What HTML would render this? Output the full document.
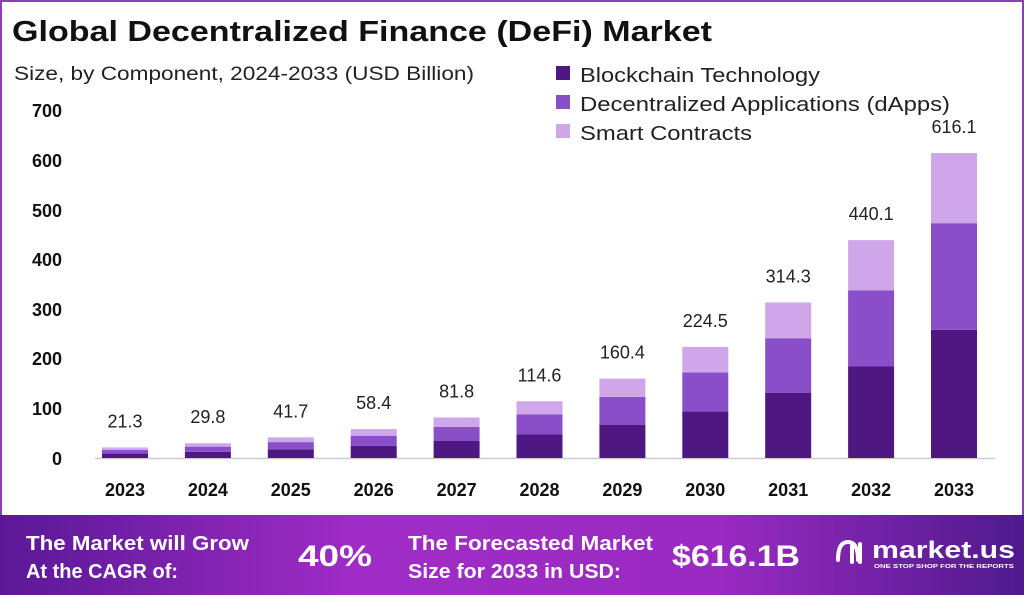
<!DOCTYPE html>
<html><head><meta charset="utf-8"><style>
body{margin:0;width:1024px;height:595px;overflow:hidden;background:#fff;font-family:"Liberation Sans",sans-serif;}
.wrap{position:relative;width:1024px;height:595px;box-sizing:border-box;border:2px solid #8a3fc0;border-bottom:none;}
</style></head><body><div class="wrap">
<svg width="1024" height="595" style="position:absolute;left:-2px;top:-2px" font-family="Liberation Sans, sans-serif">
<defs><linearGradient id="g" x1="0" x2="1"><stop offset="0" stop-color="#5a1896"/><stop offset="0.35" stop-color="#a02cc6"/><stop offset="0.7" stop-color="#9a2ac2"/><stop offset="1" stop-color="#4e1a8c"/></linearGradient></defs>
<text x="12" y="41" font-size="29" font-weight="bold" fill="#111" textLength="700" lengthAdjust="spacingAndGlyphs">Global Decentralized Finance (DeFi) Market</text>
<text x="14" y="80" font-size="19" fill="#222" textLength="460" lengthAdjust="spacingAndGlyphs">Size, by Component, 2024-2033 (USD Billion)</text>
<rect x="556" y="66" width="14" height="14" fill="#4e1782"/><text x="580" y="82" font-size="20" fill="#222" textLength="240" lengthAdjust="spacingAndGlyphs">Blockchain Technology</text>
<rect x="556" y="95" width="14" height="14" fill="#8a4fc8"/><text x="580" y="111" font-size="20" fill="#222" textLength="370" lengthAdjust="spacingAndGlyphs">Decentralized Applications (dApps)</text>
<rect x="556" y="124" width="14" height="14" fill="#d0a6eb"/><text x="580" y="140" font-size="20" fill="#222" textLength="172" lengthAdjust="spacingAndGlyphs">Smart Contracts</text>
<g font-size="18" font-weight="bold" fill="#111" text-anchor="end">
<text x="62" y="465">0</text><text x="62" y="415">100</text><text x="62" y="365">200</text><text x="62" y="316">300</text><text x="62" y="266">400</text><text x="62" y="217">500</text><text x="62" y="167">600</text><text x="62" y="117">700</text></g>
<line x1="95" y1="458.5" x2="995" y2="458.5" stroke="#ccc" stroke-width="1.5"/>
<g id="bars"></g>
<rect x="0" y="515" width="1026" height="82" fill="url(#g)"/>
<g fill="#fff" font-weight="bold">
<text x="26" y="550" font-size="20" textLength="223" lengthAdjust="spacingAndGlyphs">The Market will Grow</text>
<text x="26" y="578" font-size="20" textLength="152" lengthAdjust="spacingAndGlyphs">At the CAGR of:</text>
<text x="298" y="566" font-size="30" textLength="74" lengthAdjust="spacingAndGlyphs">40%</text>
<text x="408" y="550" font-size="20" textLength="245" lengthAdjust="spacingAndGlyphs">The Forecasted Market</text>
<text x="408" y="578" font-size="20" textLength="213" lengthAdjust="spacingAndGlyphs">Size for 2033 in USD:</text>
<text x="672" y="566" font-size="30" textLength="128" lengthAdjust="spacingAndGlyphs">$616.1B</text>
<text x="872" y="558" font-size="24" textLength="143" lengthAdjust="spacingAndGlyphs">market.us</text>
<text x="874" y="568" font-size="5" textLength="140" lengthAdjust="spacingAndGlyphs">ONE STOP SHOP FOR THE REPORTS</text>
<path d="M838 560 q0-18 10-18 q10 0 10 18 M852 562 v-16 M860 562 v-18" stroke="#fff" stroke-width="4" fill="none" stroke-linecap="round"/>
</g>
</svg>
<script>
var v=[21.3,29.8,41.7,58.4,81.8,114.6,160.4,224.5,314.3,440.1,616.1];
var s='',b=458,k=0.495;
for(var i=0;i<11;i++){var cx=125+82.9*i,x=cx-23,h=v[i]*k,d=h*0.42,m=h*0.35,l=h-d-m;
s+='<rect x="'+x+'" y="'+(b-d)+'" width="46" height="'+d+'" fill="#4e1782"/>';
s+='<rect x="'+x+'" y="'+(b-d-m)+'" width="46" height="'+m+'" fill="#8a4fc8"/>';
s+='<rect x="'+x+'" y="'+(b-h)+'" width="46" height="'+l+'" fill="#d0a6eb"/>';
s+='<text x="'+cx+'" y="'+(b-h-20)+'" font-size="18" fill="#222" text-anchor="middle">'+v[i]+'</text>';
s+='<text x="'+cx+'" y="496" font-size="18" font-weight="bold" fill="#111" text-anchor="middle">'+(2023+i)+'</text>';}
document.getElementById('bars').innerHTML=s;
</script>
</div></body></html>
